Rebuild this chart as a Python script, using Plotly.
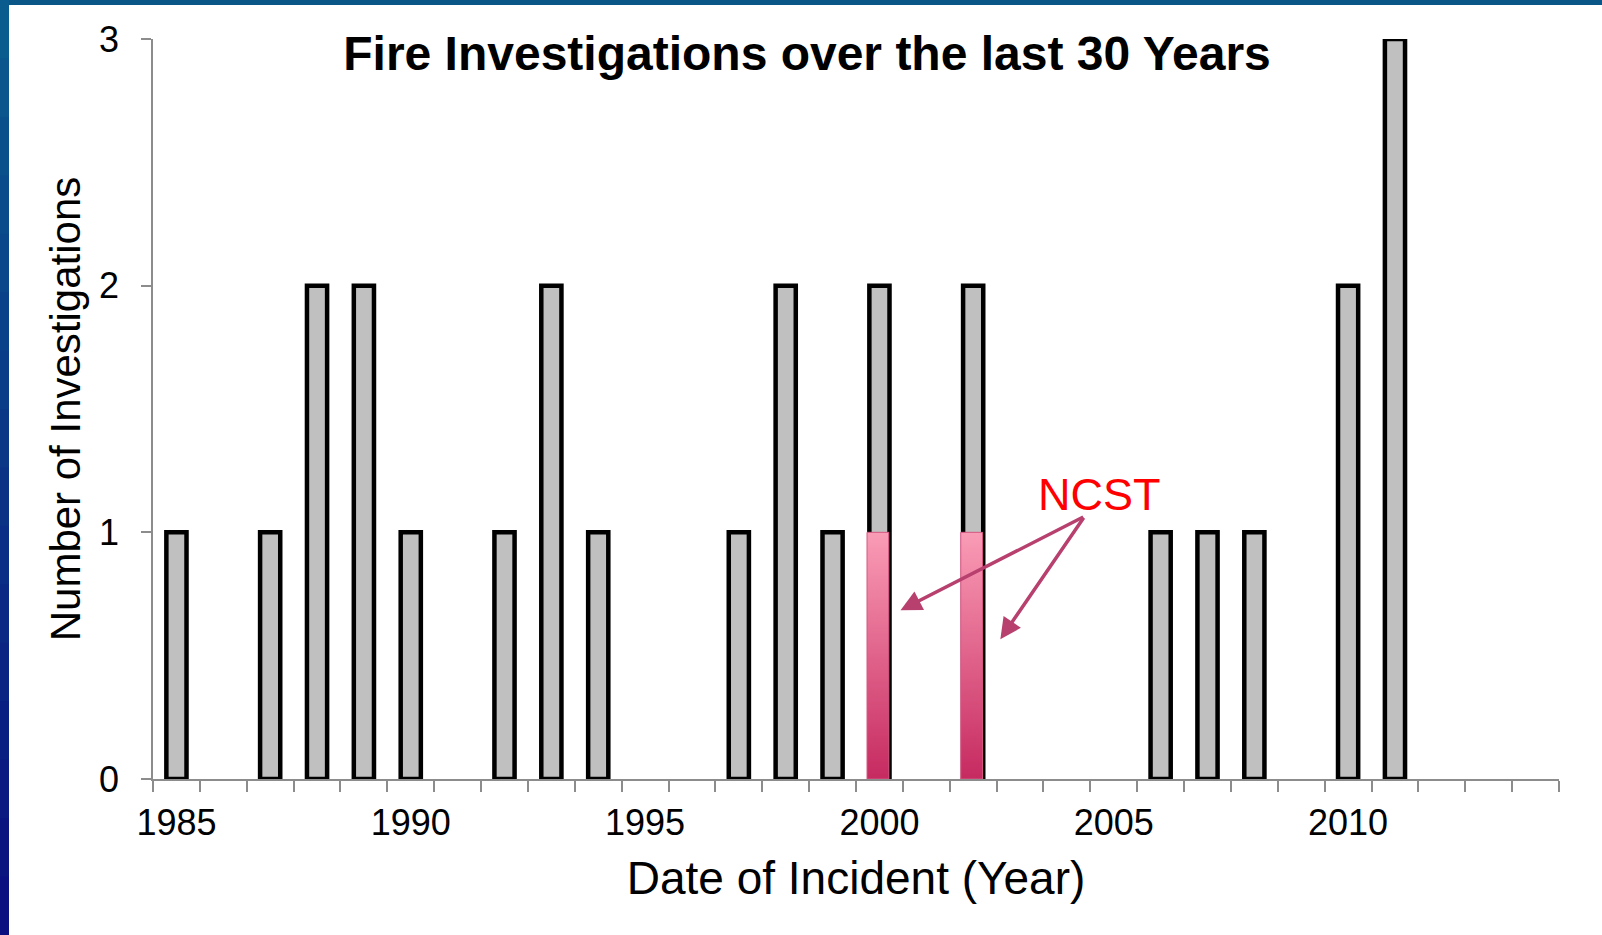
import plotly.graph_objects as go

# ---- data ----
years = list(range(1985, 2015))
counts = [1, 0, 1, 2, 2, 1, 0, 1, 2, 1,
          0, 0, 1, 2, 1, 2, 0, 2, 0, 0,
          0, 1, 1, 1, 0, 2, 3, 0, 0, 0]
ncst_years = [2000, 2002]
ncst_counts = [1, 1]
tick_years = [1985, 1990, 1995, 2000, 2005, 2010]
tick_labels = ["1985", "1990", "1995", "2000", "2005", "2010"]
y_ticks = [0, 1, 2, 3]

FONT = "Liberation Sans, Arial, sans-serif"
AXIS_GREY = "#8c8c8c"
W, H = 1602, 935
ML, MR, MT, MB = 153, 43, 39, 156

fig = go.Figure()

fig.add_trace(go.Bar(
    x=years, y=counts, width=0.43,
    marker=dict(color="#C0C0C0",
                line=dict(color="black", width=[4.5 if c else 0 for c in counts])),
    cliponaxis=False, showlegend=False, hoverinfo="x+y",
))

# NCST highlighted portions (gradient fill)
px, py = [], []
for yr, v in zip(ncst_years, ncst_counts):
    l, r = yr - 0.265, yr + 0.2
    px += [l, r, r, l, l, None]
    py += [0, 0, v, v, 0, None]
fig.add_trace(go.Scatter(
    x=px, y=py, mode="lines", fill="toself",
    line=dict(color="#D75683", width=1),
    fillgradient=dict(type="vertical",
                      colorscale=[[0, "#C62A60"], [1, "#FA9CB6"]]),
    showlegend=False, hoverinfo="skip",
))

# background: blue slide border + white panel
pw = W - ML - MR
ph = H - MT - MB
def pxx(p):
    return (p - ML) / pw
def pyy(p):
    return 1 - (p - MT) / ph

shapes = []
shapes.append(dict(type="rect", xref="paper", yref="paper", layer="below",
                   x0=pxx(0), x1=pxx(W), y0=pyy(5), y1=pyy(0),
                   fillcolor="#0A5787", line=dict(width=0)))
c0 = (11, 92, 142)
c1 = (10, 16, 128)
n = 16
for i in range(n):
    t = i / (n - 1)
    col = "rgb(%d,%d,%d)" % tuple(int(a + (b - a) * t) for a, b in zip(c0, c1))
    shapes.append(dict(type="rect", xref="paper", yref="paper", layer="below",
                       x0=pxx(0), x1=pxx(9), y0=pyy(H * (i + 1) / n + 1), y1=pyy(H * i / n),
                       fillcolor=col, line=dict(width=0)))

fig.update_layout(
    width=W, height=H,
    margin=dict(l=ML, r=MR, t=MT, b=MB, pad=0),
    paper_bgcolor="white", plot_bgcolor="white",
    shapes=shapes,
    font=dict(family=FONT, color="black"),
    title=dict(text="<b>Fire Investigations over the last 30 Years</b>",
               font=dict(size=48, family=FONT, color="black"),
               x=807 / W, xref="container", xanchor="center",
               y=1 - 53 / H, yref="container", yanchor="middle"),
    xaxis=dict(
        range=[1984.5, 2014.5], showgrid=False, zeroline=False,
        showline=True, linecolor=AXIS_GREY, linewidth=1.5,
        tickmode="array", tickvals=tick_years, ticktext=tick_labels,
        ticks="outside", ticklen=11, tickcolor="rgba(0,0,0,0)",
        tickfont=dict(size=36, family=FONT, color="black"),
        minor=dict(tick0=1984.5, dtick=1, ticks="outside", ticklen=11,
                   tickcolor=AXIS_GREY, tickwidth=1.5, showgrid=False),
        title=dict(text="Date of Incident (Year)", font=dict(size=46, family=FONT, color="black"),
                   standoff=20),
    ),
    yaxis=dict(
        range=[0, 3], showgrid=False, zeroline=False,
        showline=True, linecolor=AXIS_GREY, linewidth=1.5,
        tickmode="array", tickvals=y_ticks,
        ticks="outside", ticklen=10, tickcolor=AXIS_GREY, tickwidth=1.5,
        ticklabelstandoff=15,
        tickfont=dict(size=36, family=FONT, color="black"),
        title=dict(text="Number of Investigations", font=dict(size=42, family=FONT, color="black"),
                   standoff=5),
    ),
    annotations=[
        dict(text="NCST", x=2004.7, y=1.155, xref="x", yref="y", showarrow=False,
             font=dict(size=45, family=FONT, color="#FF0000"), xanchor="center", yanchor="middle"),
        dict(text="", x=2000.45, y=0.684, xref="x", yref="y",
             ax=2004.38, ay=1.065, axref="x", ayref="y", showarrow=True,
             arrowhead=2, arrowsize=1.2, arrowwidth=3.5, arrowcolor="#B8406E"),
        dict(text="", x=2002.58, y=0.567, xref="x", yref="y",
             ax=2004.38, ay=1.065, axref="x", ayref="y", showarrow=True,
             arrowhead=2, arrowsize=1.2, arrowwidth=3.5, arrowcolor="#B8406E"),
    ],
)

fig.write_html("out.html", config={"displayModeBar": False},
               post_script="document.body.style.margin='0';document.body.style.overflow='hidden';")
